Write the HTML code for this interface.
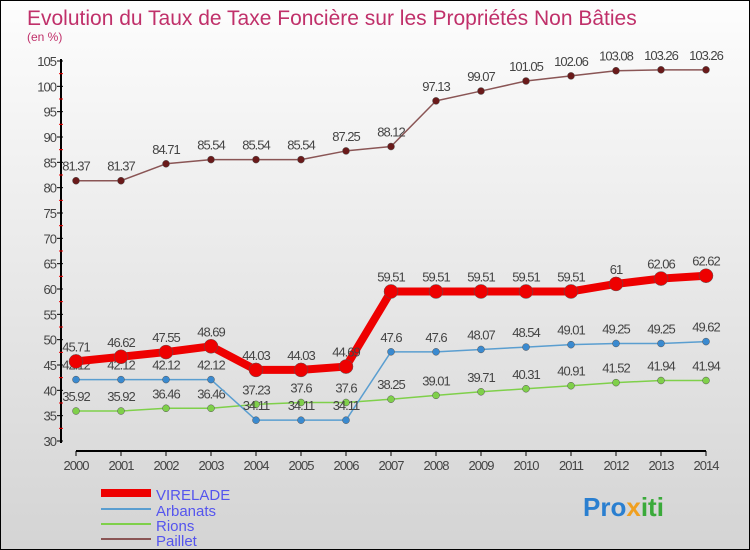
<!DOCTYPE html>
<html><head><meta charset="utf-8"><style>
body{margin:0}
#wrap{width:748px;height:548px;border:1px solid #000;background:linear-gradient(#fdfdfd,#d4d4d4);position:relative;overflow:hidden;font-family:"Liberation Sans",sans-serif}
</style></head><body>
<div id="wrap">
<svg id="svg" width="748" height="548" style="position:absolute;left:0;top:0">
<text x="26" y="24" font-size="21" fill="#c0306a">Evolution du Taux de Taxe Foncière sur les Propriétés Non Bâties</text>
<text x="26" y="40" font-size="12" fill="#c0306a">(en %)</text>
<g id="axes"></g><g id="series"></g>
<g>
<line x1="100" y1="492" x2="150" y2="492" stroke="#e00" stroke-width="8"/>
<text x="155" y="499" font-size="15" fill="#5555ee">VIRELADE</text>
<line x1="100" y1="508" x2="150" y2="508" stroke="#5a9ed0" stroke-width="2"/>
<text x="155" y="515" font-size="15" fill="#5555ee">Arbanats</text>
<line x1="100" y1="523" x2="150" y2="523" stroke="#7fd04a" stroke-width="2"/>
<text x="155" y="530" font-size="15" fill="#5555ee">Rions</text>
<line x1="100" y1="538" x2="150" y2="538" stroke="#8a5555" stroke-width="2"/>
<text x="155" y="545" font-size="15" fill="#5555ee">Paillet</text>
</g>
<text x="582" y="515" font-size="26" font-weight="bold"><tspan fill="#2a7fd0">Pro</tspan><tspan fill="#f0a020">x</tspan><tspan fill="#3aaa3a">iti</tspan></text>
</svg>
</div>
<script>
const years=[2000,2001,2002,2003,2004,2005,2006,2007,2008,2009,2010,2011,2012,2013,2014];
const virelade=[45.71,46.62,47.55,48.69,44.03,44.03,44.69,59.51,59.51,59.51,59.51,59.51,61,62.06,62.62];
const arbanats=[42.12,42.12,42.12,42.12,34.11,34.11,34.11,47.6,47.6,48.07,48.54,49.01,49.25,49.25,49.62];
const rions=[35.92,35.92,36.46,36.46,37.23,37.6,37.6,38.25,39.01,39.71,40.31,40.91,41.52,41.94,41.94];
const paillet=[81.37,81.37,84.71,85.54,85.54,85.54,87.25,88.12,97.13,99.07,101.05,102.06,103.08,103.26,103.26];
const yTicks=[30,35,40,45,50,55,60,65,70,75,80,85,90,95,100,105];
const NS="http://www.w3.org/2000/svg";
const X=i=>75+i*45;
const Y=v=>440-(v-30)*380/75;
function mk(t,a,p){const e=document.createElementNS(NS,t);for(const k in a)e.setAttribute(k,a[k]);p.appendChild(e);return e;}
const ax=document.getElementById('axes');
let l=mk('line',{x1:60,y1:58,x2:60,y2:442,stroke:'#000','stroke-width':2},ax);


l=mk('line',{x1:75,y1:450,x2:705,y2:450,stroke:'#000','stroke-width':2},ax);


yTicks.forEach(v=>{mk('line',{x1:56,y1:Y(v),x2:62,y2:Y(v),stroke:'#000'},ax);
 if(v<105)mk('line',{x1:58,y1:Y(v+2.5),x2:62,y2:Y(v+2.5),stroke:'#e00'},ax);
 const t=mk('text',{x:55,y:Y(v)+5,'font-size':13,fill:'#444','text-anchor':'end','letter-spacing':'-1'},ax);t.textContent=v;
 
 });
years.forEach((y,i)=>{mk('line',{x1:X(i),y1:450,x2:X(i),y2:455,stroke:'#000'},ax);
 const t=mk('text',{x:X(i),y:469,'font-size':13,fill:'#444','text-anchor':'middle','letter-spacing':'-1'},ax);t.textContent=y;
 
 });
const sg=document.getElementById('series');
function draw(name,vals,col,w,r,fill){
 const g=mk('g',{},sg);
 
 
 mk('polyline',{points:vals.map((v,i)=>X(i)+','+Y(v)).join(' '),fill:'none',stroke:col,'stroke-width':w,'stroke-linejoin':'round'},g);
 vals.forEach((v,i)=>{const c=mk('circle',{cx:X(i),cy:Y(v),r:r,fill:fill,stroke:'#555','stroke-width':0.5},g);
  
  
  const t=mk('text',{x:X(i),y:Y(v)-10,'font-size':13,fill:'#444','text-anchor':'middle','letter-spacing':'-1'},g);t.textContent=v;
  
  });
}
draw('paillet',paillet,'#8a5555',1.5,3.5,'#6a1a1a');
draw('rions',rions,'#7fd04a',1.5,3.5,'#7fd04a');
draw('arbanats',arbanats,'#5a9ed0',1.5,3.5,'#3a8ad0');
draw('virelade',virelade,'#e00',8,7,'#e00');
</script>
</body></html>
